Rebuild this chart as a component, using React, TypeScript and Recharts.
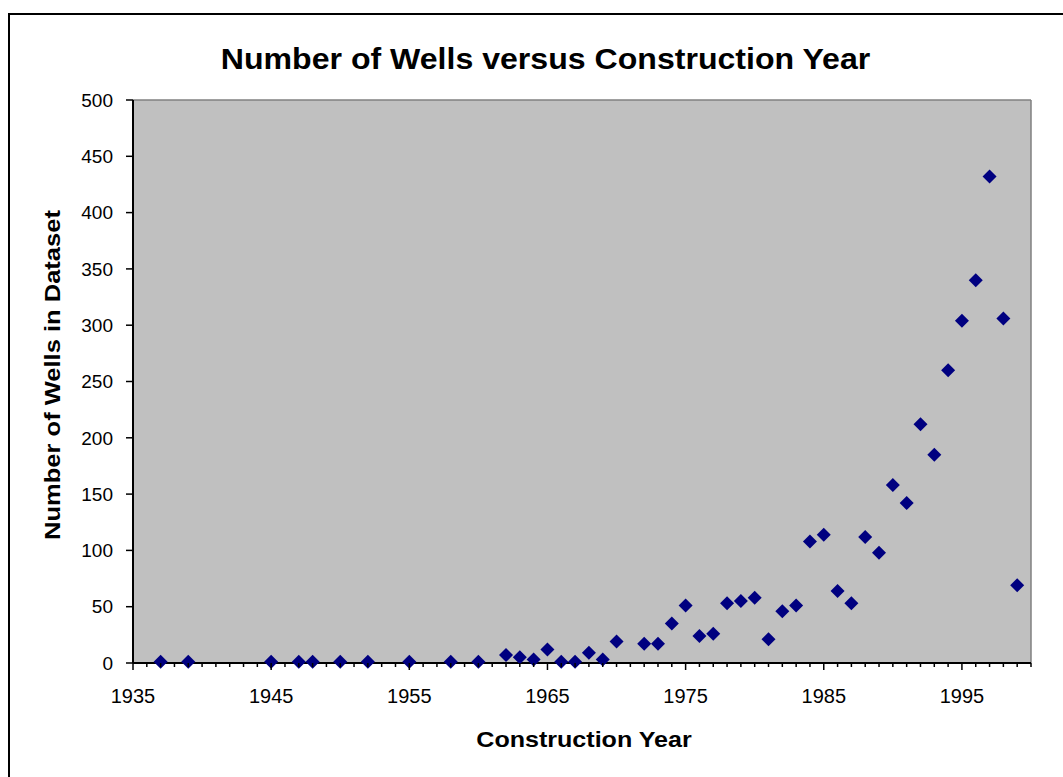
import { ScatterChart, Scatter, XAxis, YAxis, CartesianGrid, ReferenceLine } from "recharts";

const years = [
  1937, 1939, 1945, 1947, 1948, 1950, 1952, 1955, 1958, 1960, 1962, 1963, 1964, 1965, 1966, 1967,
  1968, 1969, 1970, 1972, 1973, 1974, 1975, 1976, 1977, 1978, 1979, 1980, 1981, 1982, 1983, 1984,
  1985, 1986, 1987, 1988, 1989, 1990, 1991, 1992, 1993, 1994, 1995, 1996, 1997, 1998, 1999,
];
const wellCounts = [
  1, 1, 1, 1, 1, 1, 1, 1, 1, 1, 7, 5, 3, 12, 1, 1,
  9, 3, 19, 17, 17, 35, 51, 24, 26, 53, 55, 58, 21, 46, 51, 108,
  114, 64, 53, 112, 98, 158, 142, 212, 185, 260, 304, 340, 432, 306, 69,
];
const majorYears = [1935, 1945, 1955, 1965, 1975, 1985, 1995];
const yTicks = [0, 50, 100, 150, 200, 250, 300, 350, 400, 450, 500];

const data = years.map((year, i) => ({ year, count: wellCounts[i] }));
// one tick per year, only decades get a label
const yearTicks = Array.from({ length: 66 }, (_, i) => 1935 + i);

const FONT = "'Liberation Sans', Arial, sans-serif";

function YearTick(props: any) {
  const { x, y, payload } = props;
  const major = majorYears.includes(payload.value);
  return (
    <g>
      <line x1={x} x2={x} y1={y} y2={y + (major ? 7 : 4)} stroke="#000" strokeWidth={1.5} />
      {major && (
        <text x={x} y={y + 40} textAnchor="middle" fontSize={20} fill="#000" fontFamily={FONT}>
          {payload.value}
        </text>
      )}
    </g>
  );
}

function Diamond(props: any) {
  const { cx, cy } = props;
  const r = 7;
  return (
    <polygon
      points={`${cx},${cy - r} ${cx + r},${cy} ${cx},${cy + r} ${cx - r},${cy}`}
      fill="#000080"
    />
  );
}

export default function App() {
  return (
    <div style={{ position: "fixed", left: 0, top: 0, width: 1063, height: 777, background: "#fff" }}>
      <div
        style={{
          position: "absolute",
          left: 8,
          top: 13,
          width: 1055,
          height: 764,
          borderTop: "2px solid #000",
          borderLeft: "2px solid #000",
          boxSizing: "border-box",
        }}
      />
      <div style={{ position: "absolute", left: 0, top: 0 }}>
        <ScatterChart
          width={1063}
          height={777}
          margin={{ top: 100, right: 32, bottom: 74, left: 73 }}
          style={{ fontFamily: FONT }}
        >
          <CartesianGrid fill="#C0C0C0" fillOpacity={1} stroke="none" />
          <ReferenceLine y={500} stroke="#808080" strokeWidth={1.5} />
          <ReferenceLine x={2000} stroke="#808080" strokeWidth={1.5} />
          <XAxis
            type="number"
            dataKey="year"
            domain={[1935, 2000]}
            ticks={yearTicks}
            interval={0}
            allowDataOverflow
            height={40}
            tickSize={0}
            tickMargin={0}
            tickLine={false}
            tick={<YearTick />}
            axisLine={{ stroke: "#000", strokeWidth: 2 }}
          />
          <YAxis
            type="number"
            dataKey="count"
            domain={[0, 500]}
            ticks={yTicks}
            interval={0}
            width={60}
            tickSize={7}
            tickMargin={13}
            tick={{ fill: "#000", fontSize: 19, fontFamily: FONT }}
            tickLine={{ stroke: "#000", strokeWidth: 1.5 }}
            axisLine={{ stroke: "#000", strokeWidth: 2 }}
          />
          <Scatter data={data} shape={<Diamond />} isAnimationActive={false} />
        </ScatterChart>
      </div>
      <svg
        width={1063}
        height={777}
        style={{ position: "absolute", left: 0, top: 0, pointerEvents: "none" }}
        fontFamily={FONT}
        fontWeight="bold"
      >
        <text transform="translate(545.5,69) scale(1.07,1)" textAnchor="middle" fontSize={30} fill="#000">
          Number of Wells versus Construction Year
        </text>
        <text transform="translate(584,747) scale(1.14,1)" textAnchor="middle" fontSize={22} fill="#000">
          Construction Year
        </text>
        <text transform="translate(60,375) rotate(-90) scale(1.16,1)" textAnchor="middle" fontSize={22} fill="#000">
          Number of Wells in Dataset
        </text>
      </svg>
    </div>
  );
}
